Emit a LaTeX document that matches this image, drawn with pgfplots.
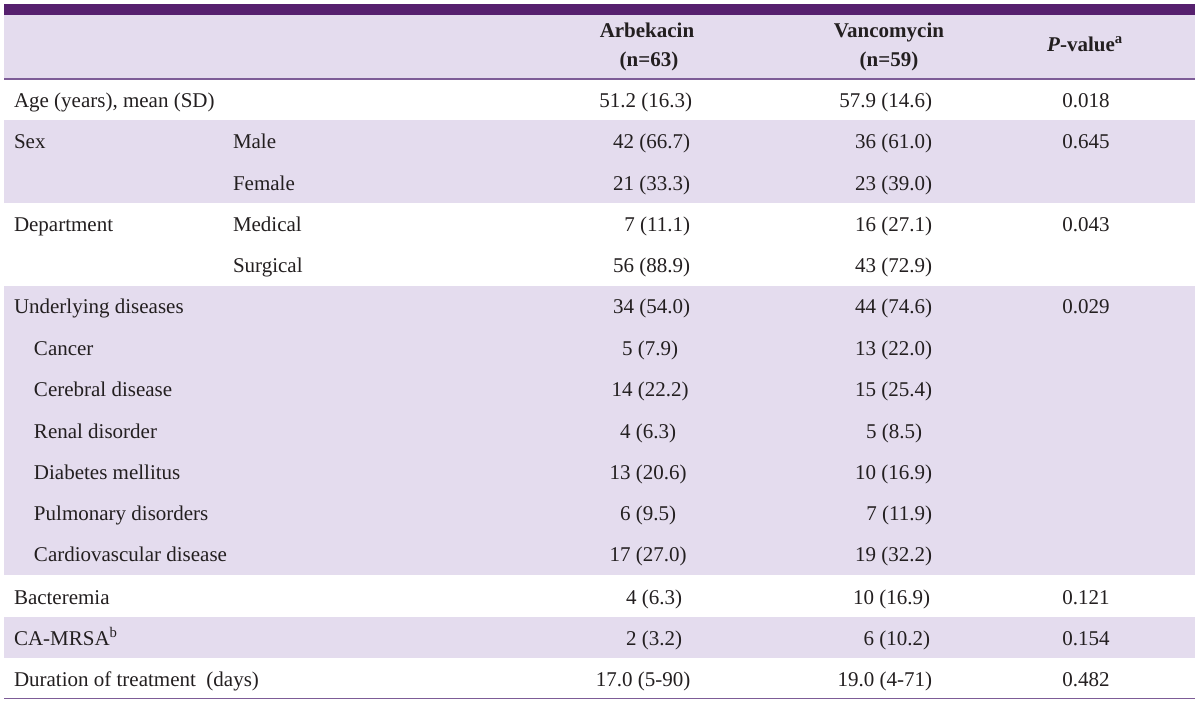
\documentclass[border=0pt]{standalone}
\usepackage{pgfplots}
\pgfplotsset{compat=1.18}
\usepackage{fontspec}
\setmainfont{Liberation Serif}
\definecolor{darkpur}{HTML}{56206E}
\definecolor{lav}{HTML}{E4DCEE}
\definecolor{linepur}{HTML}{7D5C97}
\definecolor{txt}{HTML}{231F20}
\newcommand\fs{\fontsize{21pt}{25pt}\selectfont}
\tikzset{t/.style={inner sep=0pt,outer sep=0pt,text=txt,font=\fs},
         h/.style={inner sep=0pt,outer sep=0pt,text=txt,font=\fs\bfseries,anchor=base}}
\begin{document}
\begin{tikzpicture}
\begin{axis}[width=1200pt,height=702pt,scale only axis,
  xmin=0,xmax=1200,ymin=0,ymax=702,y dir=reverse,hide axis,clip=false]
% page background
\addplot[fill=white,draw=none] coordinates {(0,0)(1200,0)(1200,702)(0,702)} --cycle;
% shaded bands
\addplot[fill=lav,draw=none] coordinates {(4,15)(1195,15)(1195,78)(4,78)} --cycle;
\addplot[fill=lav,draw=none] coordinates {(4,120)(1195,120)(1195,203)(4,203)} --cycle;
\addplot[fill=lav,draw=none] coordinates {(4,286)(1195,286)(1195,575)(4,575)} --cycle;
\addplot[fill=lav,draw=none] coordinates {(4,617)(1195,617)(1195,658)(4,658)} --cycle;
% rules
\addplot[fill=darkpur,draw=none] coordinates {(4,4)(1195,4)(1195,15)(4,15)} --cycle;
\addplot[draw=linepur,line width=1.8pt] coordinates {(4,79)(1195,79)};
\addplot[draw=linepur,line width=1.8pt] coordinates {(4,698.5)(1195,698.5)};
% header
\node[h] at (axis cs:647,37) {Arbekacin};
\node[h] at (axis cs:649,66) {(n=63)};
\node[h] at (axis cs:889,37) {Vancomycin};
\node[h] at (axis cs:889,66) {(n=59)};
\node[h] at (axis cs:1085,51) {\textit{P}-value\textsuperscript{a}};
% first column
\node[t,anchor=base west] at (axis cs:14,107) {Age (years), mean (SD)};
\node[t,anchor=base west] at (axis cs:14,148) {Sex};
\node[t,anchor=base west] at (axis cs:233,148) {Male};
\node[t,anchor=base west] at (axis cs:233,190) {Female};
\node[t,anchor=base west] at (axis cs:14,231) {Department};
\node[t,anchor=base west] at (axis cs:233,231) {Medical};
\node[t,anchor=base west] at (axis cs:233,272) {Surgical};
\node[t,anchor=base west] at (axis cs:14,313) {Underlying diseases};
\node[t,anchor=base west] at (axis cs:34,355) {Cancer};
\node[t,anchor=base west] at (axis cs:34,396) {Cerebral disease};
\node[t,anchor=base west] at (axis cs:34,438) {Renal disorder};
\node[t,anchor=base west] at (axis cs:34,479) {Diabetes mellitus};
\node[t,anchor=base west] at (axis cs:34,520) {Pulmonary disorders};
\node[t,anchor=base west] at (axis cs:34,561) {Cardiovascular disease};
\node[t,anchor=base west] at (axis cs:14,604) {Bacteremia};
\node[t,anchor=base west] at (axis cs:14,645) {CA-MRSA\textsuperscript{b}};
\node[t,anchor=base west] at (axis cs:14,686) {Duration of treatment\ \ (days)};
% Arbekacin
\node[t,anchor=base east] at (axis cs:692,107) {51.2 (16.3)};
\node[t,anchor=base east] at (axis cs:690,148) {42 (66.7)};
\node[t,anchor=base east] at (axis cs:690,190) {21 (33.3)};
\node[t,anchor=base east] at (axis cs:690,231) {7 (11.1)};
\node[t,anchor=base east] at (axis cs:690,272) {56 (88.9)};
\node[t,anchor=base east] at (axis cs:690,313) {34 (54.0)};
\node[t,anchor=base] at (axis cs:650,355) {5 (7.9)};
\node[t,anchor=base] at (axis cs:650,396) {14 (22.2)};
\node[t,anchor=base] at (axis cs:648,438) {4 (6.3)};
\node[t,anchor=base] at (axis cs:648,479) {13 (20.6)};
\node[t,anchor=base] at (axis cs:648,520) {6 (9.5)};
\node[t,anchor=base] at (axis cs:648,561) {17 (27.0)};
\node[t,anchor=base] at (axis cs:654,604) {4 (6.3)};
\node[t,anchor=base] at (axis cs:654,645) {2 (3.2)};
\node[t,anchor=base] at (axis cs:643,686) {17.0 (5-90)};
% Vancomycin
\node[t,anchor=base east] at (axis cs:932,107) {57.9 (14.6)};
\node[t,anchor=base east] at (axis cs:932,148) {36 (61.0)};
\node[t,anchor=base east] at (axis cs:932,190) {23 (39.0)};
\node[t,anchor=base east] at (axis cs:932,231) {16 (27.1)};
\node[t,anchor=base east] at (axis cs:932,272) {43 (72.9)};
\node[t,anchor=base east] at (axis cs:932,313) {44 (74.6)};
\node[t,anchor=base east] at (axis cs:932,355) {13 (22.0)};
\node[t,anchor=base east] at (axis cs:932,396) {15 (25.4)};
\node[t,anchor=base east] at (axis cs:922,438) {5 (8.5)};
\node[t,anchor=base east] at (axis cs:932,479) {10 (16.9)};
\node[t,anchor=base east] at (axis cs:932,520) {7 (11.9)};
\node[t,anchor=base east] at (axis cs:932,561) {19 (32.2)};
\node[t,anchor=base east] at (axis cs:930,604) {10 (16.9)};
\node[t,anchor=base east] at (axis cs:930,645) {6 (10.2)};
\node[t,anchor=base east] at (axis cs:932,686) {19.0 (4-71)};
% P-values
\node[t,anchor=base] at (axis cs:1086,107) {0.018};
\node[t,anchor=base] at (axis cs:1086,148) {0.645};
\node[t,anchor=base] at (axis cs:1086,231) {0.043};
\node[t,anchor=base] at (axis cs:1086,313) {0.029};
\node[t,anchor=base] at (axis cs:1086,604) {0.121};
\node[t,anchor=base] at (axis cs:1086,645) {0.154};
\node[t,anchor=base] at (axis cs:1086,686) {0.482};
\end{axis}
\end{tikzpicture}
\end{document}
